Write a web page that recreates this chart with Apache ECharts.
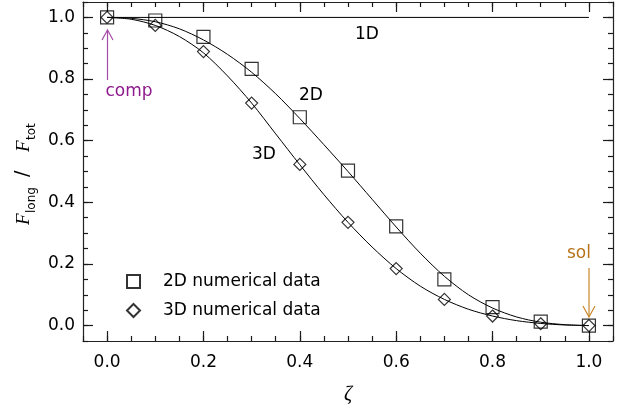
<!DOCTYPE html>
<html>
<head>
<meta charset="utf-8">
<script src="https://cdn.jsdelivr.net/npm/echarts@6/dist/echarts.min.js"></script>
<style>
  html, body { margin: 0; padding: 0; background: #fff; }
  #chart { width: 639px; height: 410px; }
</style>
</head>
<body>
<div id="chart"></div>
<script>
// ---- data ----
const sampleX = [0.0, 0.1, 0.2, 0.3, 0.4, 0.5, 0.6, 0.7, 0.8, 0.9, 1.0];
const numerical2D = [1.0, 0.99, 0.937, 0.833, 0.676, 0.503, 0.322, 0.150, 0.060, 0.013, 0.0];
const numerical3D = [1.0, 0.974, 0.889, 0.722, 0.523, 0.335, 0.185, 0.085, 0.031, 0.006, 0.0];

const curveX = [0.0, 0.05, 0.1, 0.15, 0.2, 0.25, 0.3, 0.35, 0.4, 0.45, 0.5,
                0.55, 0.6, 0.65, 0.7, 0.75, 0.8, 0.85, 0.9, 0.95, 1.0];
const fit2D = [1.0, 0.997, 0.986, 0.963, 0.927, 0.880, 0.822, 0.752, 0.672, 0.587, 0.500,
               0.410, 0.320, 0.235, 0.160, 0.100, 0.057, 0.028, 0.011, 0.003, 0.0];
const fit3D = [1.0, 0.994, 0.974, 0.938, 0.885, 0.810, 0.722, 0.622, 0.522, 0.425, 0.335,
               0.255, 0.185, 0.128, 0.085, 0.053, 0.031, 0.016, 0.007, 0.002, 0.0];
const line1DX = [0.0, 1.0];
const line1DY = [1.0, 1.0];

const xTickLabels = [0.0, 0.2, 0.4, 0.6, 0.8, 1.0];
const yTickLabels = [0.0, 0.2, 0.4, 0.6, 0.8, 1.0];
const legendNames = ['2D numerical data', '3D numerical data'];

// ---- chart ----
const FONT = 'DejaVu Sans';
const TICK = '#1a1a1a';
const pairs = (xs, ys) => xs.map((x, i) => [x, ys[i]]);
const chart = echarts.init(document.getElementById('chart'), null, { renderer: 'canvas' });

function axisBase(extra) {
  return Object.assign({
    type: 'value', min: -0.05, max: 1.05, interval: 0.05,
    splitLine: { show: false },
    axisLine: { show: true, onZero: false, lineStyle: { color: '#222', width: 1.2 } },
    axisTick: { show: true, inside: true, length: 5, lineStyle: { color: TICK, width: 1.2 } },
    axisLabel: { show: false },
    minorTick: { show: false }
  }, extra);
}
function majorAxis(pos, vals) {
  return axisBase({
    position: pos,
    axisLine: { show: false, onZero: false },
    axisTick: { show: true, inside: true, length: 10, customValues: vals, lineStyle: { color: TICK, width: 1.2 } }
  });
}
const fmt = v => v.toFixed(1);

const option = {
  backgroundColor: '#fff',
  animation: false,
  grid: { left: 83, right: 26, top: 2, bottom: 65 },
  xAxis: [
    axisBase({
      position: 'bottom',
      name: 'ζ', nameLocation: 'middle', nameGap: 44,
      nameTextStyle: { fontFamily: 'Liberation Serif', fontStyle: 'italic', fontSize: 20, color: '#000' },
      axisLabel: { show: true, customValues: xTickLabels, formatter: fmt, margin: 13,
                   fontFamily: FONT, fontSize: 17, color: '#000' }
    }),
    majorAxis('bottom', xTickLabels),
    axisBase({ position: 'top' }),
    majorAxis('top', xTickLabels)
  ],
  yAxis: [
    axisBase({
      position: 'left',
      axisLabel: { show: true, customValues: yTickLabels, formatter: fmt, margin: 8,
                   fontFamily: FONT, fontSize: 17, color: '#000' }
    }),
    majorAxis('left', yTickLabels),
    axisBase({ position: 'right' }),
    majorAxis('right', yTickLabels)
  ],
  legend: {
    orient: 'vertical', left: 121, top: 268,
    itemWidth: 13, itemHeight: 13, itemGap: 12,
    data: legendNames,
    textStyle: { fontFamily: FONT, fontSize: 17, color: '#000', padding: [0, 0, 0, 18] },
    selectedMode: false
  },
  series: [
    {
      type: 'line', name: '1D', data: pairs(line1DX, line1DY),
      showSymbol: false, symbol: 'none', silent: true,
      lineStyle: { color: '#000', width: 1 }
    },
    {
      type: 'line', name: '2D fit', data: pairs(curveX, fit2D),
      smooth: 0.3, showSymbol: false, symbol: 'none', silent: true,
      lineStyle: { color: '#000', width: 1 }
    },
    {
      type: 'line', name: '3D fit', data: pairs(curveX, fit3D),
      smooth: 0.3, showSymbol: false, symbol: 'none', silent: true,
      lineStyle: { color: '#000', width: 1 }
    },
    {
      type: 'scatter', name: legendNames[0], data: pairs(sampleX, numerical2D),
      symbol: 'rect', symbolSize: 13,
      itemStyle: { color: 'rgba(0,0,0,0)', borderColor: '#000', borderWidth: 1.2 }
    },
    {
      type: 'scatter', name: legendNames[1], data: pairs(sampleX, numerical3D),
      symbol: 'diamond', symbolSize: [12, 12],
      itemStyle: { color: 'rgba(0,0,0,0)', borderColor: '#000', borderWidth: 1.2 }
    }
  ],
  graphic: [
    { type: 'text', style: { text: '1D', x: 367, y: 35, align: 'center', verticalAlign: 'middle',
      fontFamily: FONT, fontSize: 17, fill: '#000' } },
    { type: 'text', style: { text: '2D', x: 311, y: 96, align: 'center', verticalAlign: 'middle',
      fontFamily: FONT, fontSize: 17, fill: '#000' } },
    { type: 'text', style: { text: '3D', x: 264, y: 155, align: 'center', verticalAlign: 'middle',
      fontFamily: FONT, fontSize: 17, fill: '#000' } },
    // comp annotation
    { type: 'line', shape: { x1: 107.5, y1: 80, x2: 107.5, y2: 30 },
      style: { stroke: '#a64ca6', lineWidth: 1.2 } },
    { type: 'polyline', shape: { points: [[102, 40], [107.5, 30], [113, 40]] },
      style: { stroke: '#a64ca6', lineWidth: 1.2, fill: null } },
    { type: 'text', style: { text: 'comp', x: 129, y: 92, align: 'center', verticalAlign: 'middle',
      fontFamily: FONT, fontSize: 17, fill: '#8e1a8e' } },
    // sol annotation
    { type: 'line', shape: { x1: 589, y1: 268, x2: 589, y2: 317 },
      style: { stroke: '#c8862a', lineWidth: 1.2 } },
    { type: 'polyline', shape: { points: [[583, 306], [589, 317], [595, 306]] },
      style: { stroke: '#c8862a', lineWidth: 1.2, fill: null } },
    { type: 'text', style: { text: 'sol', x: 579, y: 254, align: 'center', verticalAlign: 'middle',
      fontFamily: FONT, fontSize: 17, fill: '#b8741a' } },
    // y-axis title: F_long / F_tot (rotated)
    {
      type: 'group', x: 33, y: 225, rotation: Math.PI / 2,
      children: [
        { type: 'text', style: { text: 'F', x: 0, y: 0, align: 'left', verticalAlign: 'bottom',
          fontFamily: 'Liberation Serif', fontStyle: 'italic', fontSize: 19, fill: '#000' } },
        { type: 'text', style: { text: 'long', x: 12, y: 5, align: 'left', verticalAlign: 'bottom',
          fontFamily: FONT, fontSize: 12, fill: '#000' } },
        { type: 'text', style: { text: '/', x: 48, y: 0, align: 'left', verticalAlign: 'bottom',
          fontFamily: FONT, fontSize: 19, fill: '#000' } },
        { type: 'text', style: { text: 'F', x: 73, y: 0, align: 'left', verticalAlign: 'bottom',
          fontFamily: 'Liberation Serif', fontStyle: 'italic', fontSize: 19, fill: '#000' } },
        { type: 'text', style: { text: 'tot', x: 85, y: 5, align: 'left', verticalAlign: 'bottom',
          fontFamily: FONT, fontSize: 12, fill: '#000' } }
      ]
    }
  ]
};
chart.setOption(option);
</script>
</body>
</html>
